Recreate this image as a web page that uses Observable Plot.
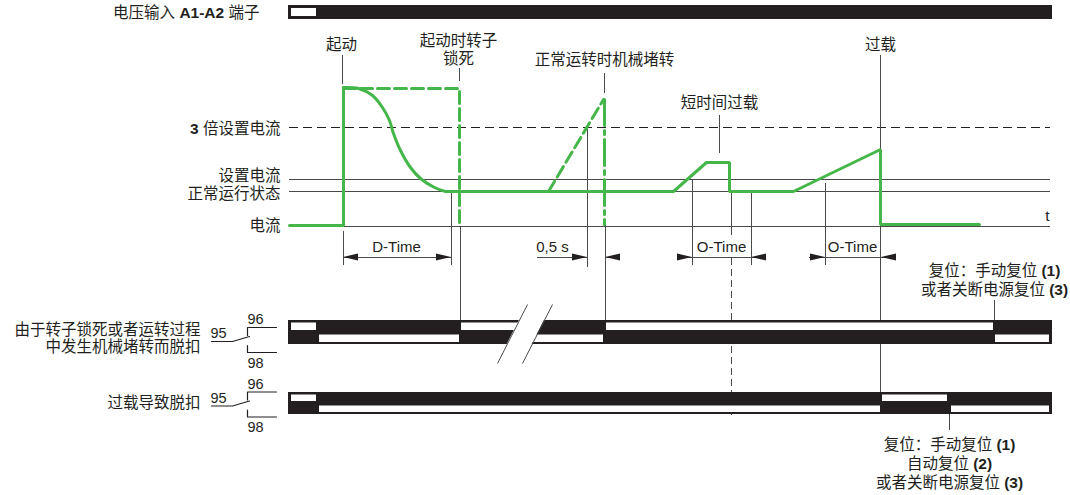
<!DOCTYPE html>
<html>
<head>
<meta charset="utf-8">
<script src="https://cdn.jsdelivr.net/npm/d3@7"></script>
<script src="https://cdn.jsdelivr.net/npm/@observablehq/plot@0.6"></script>
<style>
  html, body { margin: 0; padding: 0; background: #fff; }
  svg { display: block; }
</style>
</head>
<body>
<div id="chart"></div>
<script>
// ================= DATA =================
// Time runs along x, current / contact rows along y (diagram units).
const timelineStart = 288, timelineEnd = 1052;

// Reference current levels
const levelNames  = ["3 倍设置电流", "设置电流", "正常运行状态", "电流"];
const levelValues = [127, 179, 191, 226];
const levelFrom   = [289, 289, 289, 344];
const levelTo     = 1050;

// Main current trace (solid green)
const stepT  = [289, 343, 343];
const stepI  = [225, 225, 87];
const decayT = [343, 358, 372, 382, 389, 393, 400, 410, 420, 434, 445];
const decayI = [87, 88, 95, 107, 120, 133, 150, 167, 178, 187, 191];
const runT   = [445, 673, 706, 729, 729, 793, 880, 880, 979];
const runI   = [191, 191, 162, 162, 191, 191, 149, 224, 224];

// Locked rotor at start (dashed)
const lockT = [343, 459, 459];
const lockI = [88, 88, 225];
// Mechanical jam during normal run (dashed ramp, dash-dot drop)
const jamRampT = [548, 603];
const jamRampI = [191, 99];
const jamDropT = [604, 604];
const jamDropI = [99, 224];

// Event marker lines: time, top, bottom
const markT   = [342, 459, 604, 719, 880, 343, 451, 460, 587, 605, 692, 751, 731, 825, 994, 949];
const markTop = [55,  68,  73,  115, 55,  231, 192, 226, 127, 224, 180, 193, 193, 183, 300, 414];
const markBot = [84,  81,  93,  153, 393, 265, 265, 320, 267, 320, 265, 265, 235, 265, 320, 430];
const dashMarkT = [731], dashMarkTop = [258], dashMarkBot = [415];

// Time dimensions (D-Time, 0,5 s, O-Time)
const dimFrom = [343, 537, 605, 677, 809];
const dimTo   = [451, 587, 620, 766, 896];
const dimLevel = 257;
const arrowTip = [343, 451, 587, 605, 692, 751, 825, 881];
const arrowDir = [-1, 1, 1, -1, 1, -1, 1, -1];
const dimNames = ["D-Time", "0,5 s", "O-Time", "O-Time"];
const dimNameT = [396, 552, 721, 852];

// State rows (black bar = closed, white inset = open)
const rowNames = ["voltage", "relay1", "relay2"];
const rowTop   = [5, 320, 392];
const rowBot   = [19, 344, 414];
const voltageOff = [[291, 316]];
const relay1Top  = [[291, 316], [461, 525], [606, 993]];
const relay1Bot  = [[319, 459], [530, 603], [995, 1049]];
const relay2Top  = [[291, 316], [882, 947]];
const relay2Bot  = [[319, 880], [951, 1049]];

// Time break (//) on relay row 1
const slashA = [[527, 304], [497, 363]];
const slashB = [[552, 304], [522, 363]];

// Contact symbols 95-96-98 (centre of each symbol)
const contactCenter = [339.5, 404];

// Text labels
const labelText = [
  "电压输入 A1-A2 端子", "起动", "起动时转子", "锁死", "正常运转时机械堵转", "短时间过载", "过载",
  "3 倍设置电流", "设置电流", "正常运行状态", "电流", "t",
  "复位：手动复位 (1)", "或者关断电源复位 (3)",
  "由于转子锁死或者运转过程", "中发生机械堵转而脱扣", "过载导致脱扣",
  "复位：手动复位 (1)", "自动复位 (2)", "或者关断电源复位 (3)"
];
const labelT = [259, 341, 458, 458, 604, 719, 880, 280, 280, 280, 280, 1047, 994, 994, 200, 200, 200, 949, 949, 949];
const labelY = [13, 45, 41, 59, 60, 103, 45, 129, 176, 194, 226, 216, 271, 290, 330, 347, 403, 445, 464, 483];
const labelAnchor = ["end","middle","middle","middle","middle","middle","middle","end","end","end","end","middle",
  "middle","middle","end","end","end","middle","middle","middle"];

// ================= BUILD =================
const W = 1070, H = 495;
const ink = "#231f20", grey = "#4a4a4a", green = "#45b649";

const zip = (xs, ys) => xs.map((x, i) => ({t: x, v: ys[i]}));
const levels = levelNames.map((n, i) => ({name: n, v: levelValues[i], from: levelFrom[i]}));
const marksV = markT.map((t, i) => ({t, a: markTop[i], b: markBot[i]}));
const dashV = dashMarkT.map((t, i) => ({t, a: dashMarkTop[i], b: dashMarkBot[i]}));
const dims = dimFrom.map((a, i) => ({a, b: dimTo[i]}));
const heads = arrowTip.flatMap((tip, i) => [
  {id: i, t: tip - arrowDir[i] * 15, y1: dimLevel - 3.5, y2: dimLevel + 3.5},
  {id: i, t: tip, y1: dimLevel, y2: dimLevel}
]);
const rows = rowNames.map((n, i) => ({n, y1: rowTop[i], y2: rowBot[i]}));

function insets(segs, y1, y2) { return segs.map(([a, b]) => ({a, b, y1, y2})); }
const mid1 = (rowTop[1] + rowBot[1]) / 2, mid2 = (rowTop[2] + rowBot[2]) / 2;
const whites = [
  ...insets(voltageOff, rowTop[0] + 3, rowBot[0] - 3),
  ...insets(relay1Top, rowTop[1] + 2.5, mid1 - 2),
  ...insets(relay1Bot, mid1 + 2.5, rowBot[1] - 2),
  ...insets(relay2Top, rowTop[2] + 2.5, mid2 - 2),
  ...insets(relay2Bot, mid2 + 2.5, rowBot[2] - 2)
];

const slashX = (s, y) => s[0][0] + (y - s[0][1]) * (s[1][0] - s[0][0]) / (s[1][1] - s[0][1]);
const gap = [rowTop[1] - 2, rowBot[1] + 2].map(y => ({y, x1: slashX(slashA, y), x2: slashX(slashB, y)}));

// contact symbol geometry relative to its centre
const contactLines = contactCenter.flatMap((c, k) => [
  {id: k + "a", pts: [[276, c - 12.5], [247, c - 12.5], [247, c - 4.5]]},
  {id: k + "b", pts: [[247, c + 5.5], [247, c + 12.5], [276, c + 12.5]]},
  {id: k + "c", pts: [[211, c + 1.5], [232, c + 1.5], [249, c - 3.5]]}
]).flatMap(d => d.pts.map(([t, v]) => ({id: d.id, t, v})));
const contactText = contactCenter.flatMap(c => [
  {t: 255, v: c - 20.5, s: "96"}, {t: 218, v: c - 6.5, s: "95"}, {t: 255, v: c + 23, s: "98"}
]);

const labels = labelText.map((s, i) => ({s, t: labelT[i], v: labelY[i], anchor: labelAnchor[i]}));

const font = '"Liberation Sans", "Noto Sans CJK SC", sans-serif';

const svg = Plot.plot({
  width: W, height: H, margin: 0,
  x: {domain: [0, W], range: [0, W], axis: null},
  y: {domain: [0, H], range: [0, H], axis: null},
  style: {fontFamily: font, background: "#fff", color: ink},
  marks: [
    // reference levels
    Plot.ruleY(levels.slice(0, 1), {y: "v", x1: "from", x2: () => levelTo, stroke: ink, strokeWidth: 1, strokeDasharray: "9,5"}),
    Plot.ruleY(levels.slice(1), {y: "v", x1: "from", x2: () => levelTo, stroke: grey, strokeWidth: 1.1}),
    // event markers
    Plot.ruleX(marksV, {x: "t", y1: "a", y2: "b", stroke: grey, strokeWidth: 1}),
    Plot.ruleX(dashV, {x: "t", y1: "a", y2: "b", stroke: grey, strokeWidth: 1, strokeDasharray: "7,4"}),
    // dashed green scenarios
    Plot.line(zip(lockT, lockI), {x: "t", y: "v", stroke: green, strokeWidth: 3, strokeDasharray: "12,5"}),
    Plot.line(zip(jamRampT, jamRampI), {x: "t", y: "v", stroke: green, strokeWidth: 3, strokeDasharray: "12,5"}),
    Plot.line(zip(jamDropT, jamDropI), {x: "t", y: "v", stroke: green, strokeWidth: 3, strokeDasharray: "26,5,4,5"}),
    // solid current trace
    Plot.line(zip(stepT, stepI), {x: "t", y: "v", stroke: green, strokeWidth: 3, strokeLinejoin: "miter"}),
    Plot.line(zip(decayT, decayI), {x: "t", y: "v", stroke: green, strokeWidth: 3, curve: "catmull-rom"}),
    Plot.line(zip(runT, runI), {x: "t", y: "v", stroke: green, strokeWidth: 3, strokeLinejoin: "miter"}),
    // dimensions
    Plot.ruleY(dims, {y: () => dimLevel, x1: "a", x2: "b", stroke: grey, strokeWidth: 1}),
    Plot.areaY(heads, {x: "t", y1: "y1", y2: "y2", z: "id", fill: ink}),
    Plot.text(dimNames, {x: (d, i) => dimNameT[i], y: () => 247, text: d => d, fontSize: 15, fill: ink}),
    // state bars
    Plot.rect(rows, {x1: () => timelineStart, x2: () => timelineEnd, y1: "y1", y2: "y2", fill: ink}),
    Plot.rect(whites, {x1: "a", x2: "b", y1: "y1", y2: "y2", fill: "#fff"}),
    Plot.areaX(gap, {y: "y", x1: "x1", x2: "x2", fill: "#fff"}),
    Plot.link([slashA, slashB], {x1: d => d[0][0], y1: d => d[0][1], x2: d => d[1][0], y2: d => d[1][1], stroke: grey, strokeWidth: 1}),
    // contact symbols
    Plot.line(contactLines, {x: "t", y: "v", z: "id", stroke: ink, strokeWidth: 1.2, curve: "linear"}),
    Plot.text(contactText, {x: "t", y: "v", text: "s", fontSize: 14.5, fill: ink}),
    // labels
    Plot.text(labels.filter(d => d.anchor === "end"), {x: "t", y: "v", text: "s", textAnchor: "end", fontSize: 15.5, fill: ink}),
    Plot.text(labels.filter(d => d.anchor === "middle"), {x: "t", y: "v", text: "s", textAnchor: "middle", fontSize: 15.5, fill: ink})
  ]
});

// bold the Latin tokens as in the reference
const boldRe = /(A1-A2|\(\d\)|^3(?= ))/;
d3.select(svg).selectAll("text").each(function () {
  const el = this;
  if (el.children.length) return;
  const s = el.textContent;
  if (!boldRe.test(s)) return;
  el.textContent = "";
  s.split(boldRe).forEach(part => {
    if (!part) return;
    const ts = document.createElementNS("http://www.w3.org/2000/svg", "tspan");
    ts.textContent = part;
    if (/^(A1-A2|\(\d\)|3)$/.test(part)) ts.setAttribute("font-weight", "bold");
    el.appendChild(ts);
  });
});

document.getElementById("chart").appendChild(svg);
</script>
</body>
</html>
